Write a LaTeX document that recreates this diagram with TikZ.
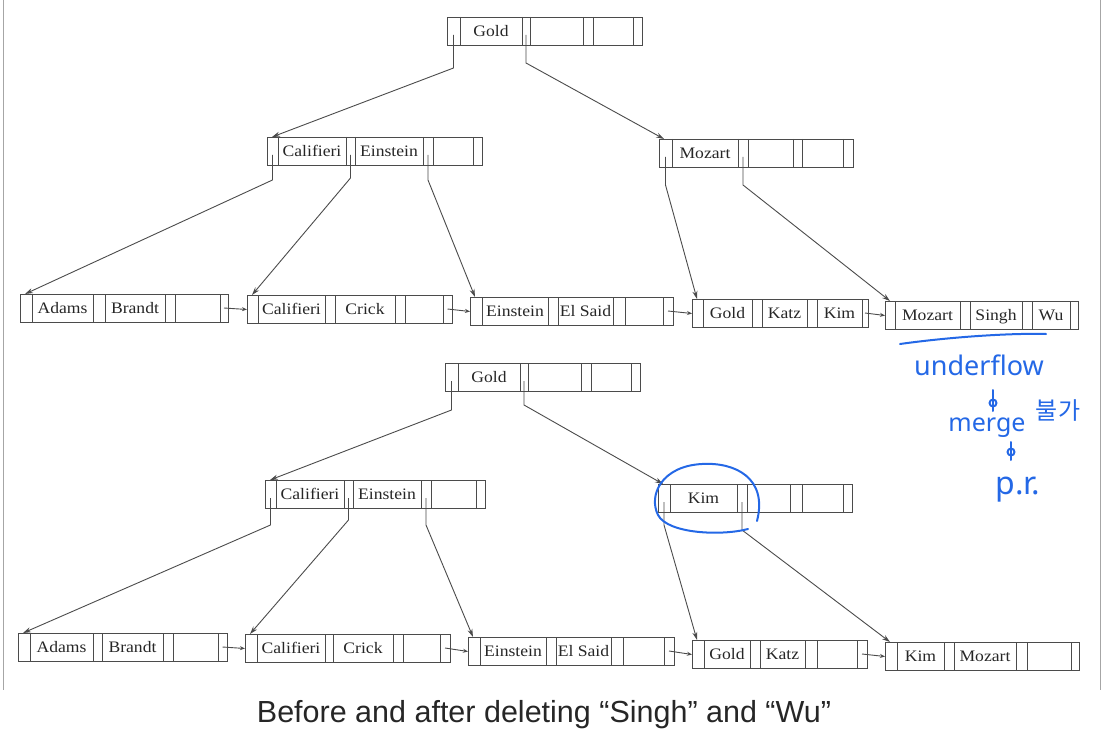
\documentclass[tikz,border=0pt]{standalone}
\usepackage{fontspec}
\setmainfont{Liberation Serif}
\newfontfamily\keyfont[FakeStretch=1.1]{Liberation Serif}
\newfontfamily\capfont{Liberation Sans}
\newfontfamily\handfont{Noto Sans}
\newfontfamily\handkr{Noto Sans CJK KR}
\usetikzlibrary{arrows.meta}
\definecolor{ink}{RGB}{75,75,75}
\definecolor{hand}{RGB}{36,104,230}
\tikzset{
  boxline/.style={draw=ink, line width=1pt},
  keytext/.style={font=\keyfont\fontsize{16}{16}\selectfont, text=black!85, inner sep=0pt, anchor=base},
  treeptr/.style={draw=ink, line width=0.9pt, -{Stealth[length=8pt,width=5pt]}},
  chainptr/.style={draw=ink, line width=0.9pt, -{Stealth[length=5pt,width=4pt]}},
  handline/.style={draw=hand, line width=2pt, line cap=round, line join=round},
  handtext/.style={text=hand, inner sep=0pt, anchor=base},
  frameline/.style={draw=black!35, line width=1pt},
}
% #1 name, #2 top, #3 cell boundaries, #4-#6 keys
\newcommand\bpnode[6]{%
  \pgfmathsetmacro\bA{{#3}[0]}%
  \pgfmathsetmacro\bB{{#3}[1]}%
  \pgfmathsetmacro\bC{{#3}[2]}%
  \pgfmathsetmacro\bD{{#3}[3]}%
  \pgfmathsetmacro\bE{{#3}[4]}%
  \pgfmathsetmacro\bF{{#3}[5]}%
  \pgfmathsetmacro\bG{{#3}[6]}%
  \pgfmathsetmacro\bH{{#3}[7]}%
  \node[boxline, rectangle, inner sep=0pt, minimum width={(\bH-\bA)*1pt}, minimum height=28pt, anchor=north west] (#1) at (\bA,#2) {};
  \foreach \b in {\bB,\bC,\bD,\bE,\bF,\bG} \draw[boxline] (\b,#2) -- (\b,{#2+28});
  \node[keytext] (#1-k1) at ({(\bB+\bC)/2},{#2+19.5}) {#4};
  \node[keytext] (#1-k2) at ({(\bD+\bE)/2},{#2+19.5}) {#5};
  \node[keytext] (#1-k3) at ({(\bF+\bG)/2},{#2+19.5}) {#6};
  \coordinate (#1-p1) at ({(\bA+\bB)/2},{#2+18});
  \coordinate (#1-p2) at ({(\bC+\bD)/2},{#2+18});
  \coordinate (#1-p3) at ({(\bE+\bF)/2},{#2+18});
  \coordinate (#1-q) at ({(\bG+\bH)/2},{#2+14});
}
\begin{document}
\begin{tikzpicture}[x=1pt,y=-1pt]
\useasboundingbox (0,0) rectangle (1106,746);
\draw[frameline] (3,0) -- (3,690);
\draw[frameline] (1100,0) -- (1100,690);

% ---------- before ----------
\bpnode{R1}{17}{447,460,522,530,583,593,633,642}{Gold}{}{}
\bpnode{I1}{137}{267,278,346,355,423,433,473,482}{Califieri}{Einstein}{}
\bpnode{M1}{139}{659,672,738,748,793,802,843,853}{Mozart}{}{}
\bpnode{L1}{294}{20,32,93,105,165,175,220,228}{Adams}{Brandt}{}
\bpnode{L2}{295}{247,258,325,335,395,405,443,452}{Califieri}{Crick}{}
\bpnode{L3}{297}{470,482,548,558,613,625,663,673}{Einstein}{El Said}{}
\bpnode{L4}{299}{692,703,752,762,807,817,862,868}{Gold}{Katz}{Kim}
\bpnode{L5}{301}{885,895,960,970,1022,1032,1070,1078}{Mozart}{Singh}{Wu}

\draw[treeptr] (R1-p1) -- ++(0,33) -- ([xshift=5pt]I1.north west);
\draw[treeptr] (R1-p2) -- ++(0,28) -- ([xshift=5pt]M1.north west);
\draw[treeptr] (I1-p1) -- ++(0,25) -- ([xshift=5pt]L1.north west);
\draw[treeptr] (I1-p2) -- ++(0,23) -- ([xshift=5pt]L2.north west);
\draw[treeptr] (I1-p3) -- ++(0,25) -- ([xshift=5pt]L3.north west);
\draw[treeptr] (M1-p1) -- ++(0,28) -- ([xshift=5pt]L4.north west);
\draw[treeptr] (M1-p2) -- ++(0,28) -- ([xshift=5pt]L5.north west);
\draw[chainptr] (L1-q) -- (L2.west);
\draw[chainptr] (L2-q) -- (L3.west);
\draw[chainptr] (L3-q) -- (L4.west);
\draw[chainptr] (L4-q) -- (L5.west);

% ---------- after ----------
\bpnode{R2}{363}{445,458,520,528,581,591,631,640}{Gold}{}{}
\bpnode{I2}{480}{265,276,344,353,421,431,476,485}{Califieri}{Einstein}{}
\bpnode{K2}{484}{658,670,737,747,790,802,843,852}{Kim}{}{}
\bpnode{A1}{633}{18,30,93,102,163,173,218,227}{Adams}{Brandt}{}
\bpnode{A2}{634}{245,257,325,333,393,403,440,450}{Califieri}{Crick}{}
\bpnode{A3}{637}{468,480,546,556,611,623,664,674}{Einstein}{El Said}{}
\bpnode{A4}{640}{692,704,750,760,805,817,857,867}{Gold}{Katz}{}
\bpnode{A5}{642}{885,897,944,954,1016,1027,1071,1079}{Kim}{Mozart}{}

\draw[treeptr] (R2-p1) -- ++(0,29) -- ([xshift=5pt]I2.north west);
\draw[treeptr] (R2-p2) -- ++(0,24) -- ([xshift=5pt]K2.north west);
\draw[treeptr] (I2-p1) -- ++(0,27) -- ([xshift=5pt]A1.north west);
\draw[treeptr] (I2-p2) -- ++(0,22) -- ([xshift=5pt]A2.north west);
\draw[treeptr] (I2-p3) -- ++(0,27) -- ([xshift=5pt]A3.north west);
\draw[treeptr] (K2-p1) -- ++(0,23) -- ([xshift=5pt]A4.north west);
\draw[treeptr] (K2-p2) -- ++(0,28) -- ([xshift=5pt]A5.north west);
\draw[chainptr] (A1-q) -- (A2.west);
\draw[chainptr] (A2-q) -- (A3.west);
\draw[chainptr] (A3-q) -- (A4.west);
\draw[chainptr] (A4-q) -- (A5.west);

% ---------- handwritten notes ----------
\draw[handline] (900,344) .. controls (950,337) and (1010,333) .. (1046,334);
\node[handtext, font=\handfont\fontsize{27}{27}\selectfont] (uf) at (979,375) {underflow};
\node[handtext, font=\handfont\fontsize{25}{25}\selectfont] (mg) at (987,431) {merge};
\node[handtext, font=\handkr\fontsize{24}{24}\selectfont] (bg) at (1058,419) {불가};
\node[handtext, font=\handfont\fontsize{32}{32}\selectfont] (pr) at (1018,494) {p.r.};
\coordinate (d1a) at (993,390);
\coordinate (d1b) at (993,411);
\coordinate (d2a) at (1011,442);
\coordinate (d2b) at (1011,460);
\draw[handline] (d1a) -- (d1b);
\draw[handline] (993,403) circle (3.5);
\draw[handline] (d2a) -- (d2b);
\draw[handline] (1011,452) circle (3.5);
\draw[handline] (757,521) .. controls (768,478) and (735,462) .. (702,464)
  .. controls (662,466) and (648,495) .. (658,515)
  .. controls (668,534) and (722,536) .. (748,529);

% ---------- caption ----------
\node[font=\capfont\fontsize{30.5}{30.5}\selectfont, text=black!85, anchor=base, inner sep=0pt] (cap) at (544,722) {Before and after deleting “Singh” and “Wu”};
\end{tikzpicture}
\end{document}
